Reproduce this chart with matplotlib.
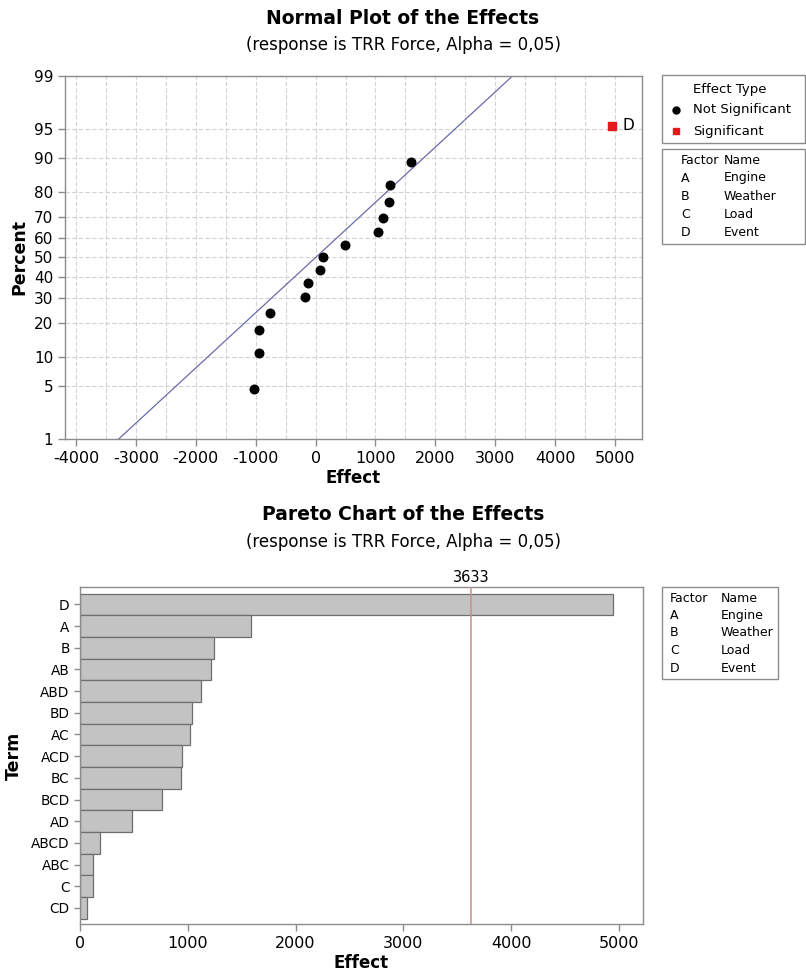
import numpy as np
import matplotlib
matplotlib.use("Agg")
import matplotlib.pyplot as plt
from matplotlib.patches import Rectangle
from matplotlib.lines import Line2D
from statistics import NormalDist

# Factorial effects on TRR Force
terms = ["D", "A", "B", "AB", "ABD", "BD", "AC", "ACD", "BC", "BCD",
         "AD", "ABCD", "ABC", "C", "CD"]
effects = [4945, 1585, 1243, 1218, 1120, 1040, -1020, -943, -940, -760,
           485, -181, 124, -121, 67]
significant_terms = ["D"]
threshold = 3633          # Lenth margin of error, alpha = 0.05
t_crit = 2.5706           # t(0.975, df = 5)

factor_codes = ["A", "B", "C", "D"]
factor_names = ["Engine", "Weather", "Load", "Event"]

pct_ticks = [1, 5, 10, 20, 30, 40, 50, 60, 70, 80, 90, 95, 99]
x_ticks_normal = [-4000, -3000, -2000, -1000, 0, 1000, 2000, 3000, 4000, 5000]
x_ticks_pareto = [0, 1000, 2000, 3000, 4000, 5000]

plt.rcParams["font.family"] = ["DejaVu Sans"]
plt.rcParams["axes.unicode_minus"] = False

W, H = 806, 980
fig = plt.figure(figsize=(W / 100, H / 100), dpi=100)

def fx(px):
    return px / W

def fy(py):
    return 1 - py / H

EDGE = "#8c8c8c"
GRID = "#d2d2d2"

_nd = NormalDist()
_ppf = np.vectorize(lambda p: _nd.inv_cdf(min(max(p / 100.0, 1e-9), 1 - 1e-9)),
                    otypes=[float])
_cdf = np.vectorize(lambda z: 100.0 * _nd.cdf(z), otypes=[float])

def style_axes(ax):
    for s in ax.spines.values():
        s.set_color(EDGE)
        s.set_linewidth(1.0)
    ax.tick_params(axis="both", colors=EDGE, labelcolor="black", length=5, width=1)

# ---------------- Normal probability plot ----------------
ax1 = fig.add_axes([fx(65), fy(439), fx(577), 363 / H])
ax1.set_yscale("function", functions=(_ppf, _cdf))
ax1.set_xlim(-4184, 5450)
ax1.set_ylim(1, 99)

eff = np.array(effects, dtype=float)
order = np.argsort(eff)
n = len(eff)
ranks = np.arange(1, n + 1)
pcts = (ranks - 0.3) / (n + 0.4) * 100
sorted_eff = eff[order]
sorted_terms = [terms[i] for i in order]
sig_mask = np.array([t in significant_terms for t in sorted_terms])

for x in np.arange(-4000, 5001, 500):
    ax1.axvline(x, color=GRID, lw=0.8, ls=(0, (4, 2)), zorder=0)
for p in pct_ticks:
    ax1.axhline(p, color=GRID, lw=0.8, ls=(0, (4, 2)), zorder=0)

pse = threshold / t_crit
line_p = np.array([0.05, 99.95])
line_x = pse * np.array([_nd.inv_cdf(p / 100) for p in line_p])
ax1.plot(line_x, line_p, color="#6a6aac", lw=0.9, zorder=2)

ax1.scatter(sorted_eff[~sig_mask], pcts[~sig_mask], s=38, color="black", zorder=3)
ax1.scatter(sorted_eff[sig_mask], pcts[sig_mask], s=36, marker="s", color="#e31a1c", zorder=3)
for xv, pv, t in zip(sorted_eff[sig_mask], pcts[sig_mask], np.array(sorted_terms)[sig_mask]):
    ax1.annotate(t, (xv, pv), xytext=(8, 0), textcoords="offset points",
                 va="center", ha="left", fontsize=11)

ax1.set_xticks(x_ticks_normal)
ax1.set_xticklabels([str(v) for v in x_ticks_normal], fontsize=11.5)
ax1.set_yticks(pct_ticks)
ax1.set_yticklabels([str(v) for v in pct_ticks], fontsize=11)
ax1.yaxis.set_minor_locator(matplotlib.ticker.NullLocator())
style_axes(ax1)
ax1.set_xlabel("Effect", fontsize=12, fontweight="bold", labelpad=2)
ax1.set_ylabel("Percent", fontsize=12.5, fontweight="bold", labelpad=4)

fig.text(0.5, fy(18), "Normal Plot of the Effects", ha="center", va="center",
         fontsize=13.5, fontweight="bold")
fig.text(0.5, fy(45), "(response is TRR Force, Alpha = 0,05)", ha="center",
         va="center", fontsize=12)

# legend: effect type
fig.patches.append(Rectangle((fx(662), fy(143)), fx(805 - 662), (143 - 75) / H,
                             transform=fig.transFigure, fill=False, ec=EDGE, lw=1))
fig.text(fx(693), fy(90), "Effect Type", va="center", ha="left", fontsize=9.5)
fig.lines.append(Line2D([fx(676)], [fy(110)], marker="o", ms=5, color="black",
                        ls="none", transform=fig.transFigure))
fig.text(fx(693), fy(110), "Not Significant", va="center", ha="left", fontsize=9.5)
fig.lines.append(Line2D([fx(676)], [fy(131)], marker="s", ms=5, color="#e31a1c",
                        ls="none", transform=fig.transFigure))
fig.text(fx(693), fy(131), "Significant", va="center", ha="left", fontsize=9.5)

def factor_table(left, right, top, bottom, col1, col2, row0, step):
    fig.patches.append(Rectangle((fx(left), fy(bottom)), fx(right - left), (bottom - top) / H,
                                 transform=fig.transFigure, fill=False, ec=EDGE, lw=1))
    fig.text(fx(col1), fy(row0), "Factor", va="center", ha="left", fontsize=9)
    fig.text(fx(col2), fy(row0), "Name", va="center", ha="left", fontsize=9)
    for i, (c, nm) in enumerate(zip(factor_codes, factor_names)):
        yy = row0 + step * (i + 1)
        fig.text(fx(col1), fy(yy), c, va="center", ha="left", fontsize=9)
        fig.text(fx(col2), fy(yy), nm, va="center", ha="left", fontsize=9)

factor_table(662, 805, 149, 244, 681, 724, 160, 18)

# ---------------- Pareto chart ----------------
ax2 = fig.add_axes([fx(80), fy(924), fx(563), 337 / H])
abs_eff = np.abs(eff)
porder = np.argsort(-abs_eff, kind="stable")
ypos = np.arange(n)
ax2.barh(ypos, abs_eff[porder], height=1.0, color="#c3c3c3", edgecolor="#6e6e6e",
         linewidth=0.9, zorder=2)
ax2.axvline(threshold, color="#d08c8c", lw=1.1, zorder=3)
ax2.set_xlim(0, 5225)
ax2.set_ylim(n - 1 + 0.74, -0.8)
ax2.set_yticks(ypos)
ax2.set_yticklabels([terms[i] for i in porder], fontsize=9.8)
ax2.set_xticks(x_ticks_pareto)
ax2.set_xticklabels([str(v) for v in x_ticks_pareto], fontsize=11.5)
style_axes(ax2)
ax2.tick_params(axis="y", length=4)
ax2.set_xlabel("Effect", fontsize=12, fontweight="bold", labelpad=2)
ax2.set_ylabel("Term", fontsize=12.5, fontweight="bold", labelpad=6)
ax2.text(threshold, 1.005, f"{threshold}", transform=ax2.get_xaxis_transform(),
         ha="center", va="bottom", fontsize=10.5)

fig.text(0.5, fy(515), "Pareto Chart of the Effects", ha="center", va="center",
         fontsize=13.5, fontweight="bold")
fig.text(0.5, fy(542), "(response is TRR Force, Alpha = 0,05)", ha="center",
         va="center", fontsize=12)

factor_table(662, 778, 587, 679, 670, 721, 598, 17.5)

fig.savefig("out.png", dpi=100)
